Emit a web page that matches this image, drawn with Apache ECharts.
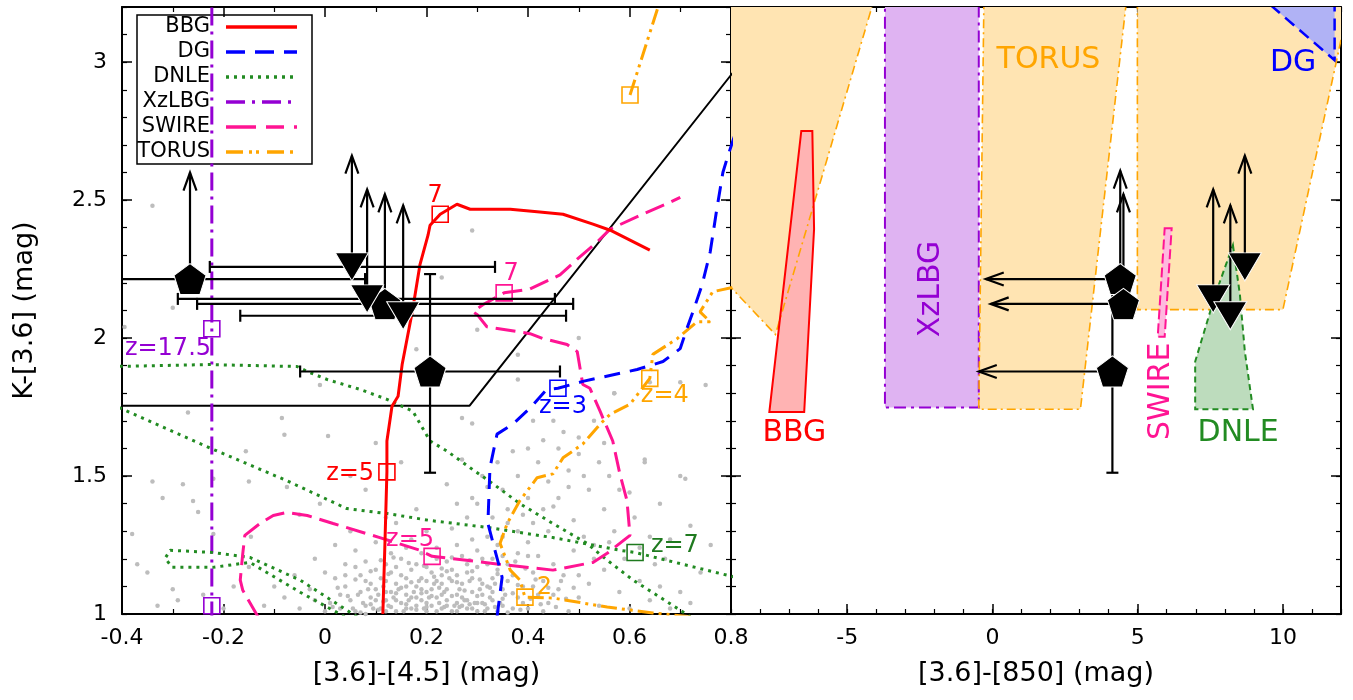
<!DOCTYPE html>
<html><head><meta charset="utf-8">
<script src="https://cdn.jsdelivr.net/npm/echarts@6/dist/echarts.min.js"></script>
<style>html,body{margin:0;padding:0;background:#fff}#c{width:1353px;height:700px}</style>
</head><body><div id="c"></div>
<script>
// ---------------- DATA ----------------
// background field galaxies ([3.6]-[4.5], K-[3.6])
const fieldSources = [
[0.06,1.01],[0.08,1.03],[0.09,1.06],[0.11,1.02],[0.12,1.05],[0.13,1.08],[0.14,1.01],[0.15,1.04],[0.16,1.07],[0.17,1.02],[0.18,1.10],[0.19,1.05],[0.2,1.01],[0.2,1.08],[0.21,1.03],[0.22,1.06],[0.22,1.12],[0.23,1.02],[0.24,1.05],[0.24,1.09],[0.25,1.01],[0.26,1.04],[0.26,1.07],[0.27,1.11],[0.28,1.02],[0.28,1.05],[0.29,1.08],[0.3,1.01],[0.3,1.04],[0.31,1.07],[0.32,1.02],[0.32,1.10],[0.33,1.05],[0.34,1.01],[0.35,1.03],[0.1,1.09],[0.12,1.12],[0.14,1.11],[0.15,1.14],[0.17,1.06],[0.18,1.03],[0.19,1.13],[0.21,1.09],[0.23,1.14],[0.25,1.12],[0.27,1.03],[0.29,1.13],[0.31,1.11],[0.05,1.05],[0.07,1.08],[0.03,1.02],[0.04,1.10],[0.01,1.04],[0.02,1.13],[0.16,1.02],[0.18,1.06],[0.2,1.04],[0.22,1.01],[0.24,1.03],[0.26,1.01],[0.19,1.09],[0.21,1.15],[0.17,1.16],[0.13,1.15],[0.11,1.13],[0.09,1.11],[0.07,1.14],[0.25,1.16],[0.28,1.15],[0.3,1.17],[0.33,1.13],[0.35,1.09],[0.36,1.12],[0.14,1.05],[0.16,1.10],[0.23,1.07],[0.27,1.06],[0.29,1.02],[0.12,1.01],[0.1,1.05],[0.08,1.00],[0.31,1.04],[0.33,1.08],[0.2,1.12],[0.18,1.18],[0.15,1.2],[0.24,1.19],[0.27,1.21],[0.3,1.23],[0.12,1.18],
[0.055,1.02],[0.065,1.07],[0.075,1.04],[0.085,1.09],[0.095,1.02],[0.105,1.07],[0.115,1.10],[0.125,1.03],[0.135,1.06],[0.145,1.09],[0.155,1.01],[0.165,1.05],[0.175,1.08],[0.185,1.12],[0.195,1.02],[0.205,1.06],[0.215,1.11],[0.225,1.04],[0.235,1.08],[0.245,1.13],[0.255,1.03],[0.265,1.09],[0.275,1.05],[0.285,1.12],[0.295,1.04],[0.305,1.09],[0.315,1.01],[0.325,1.06],[0.335,1.11],[0.345,1.04],[0.355,1.07],[0.16,1.13],[0.2,1.17],[0.23,1.11],[0.26,1.14],[0.12,1.08],[0.14,1.17],[0.1,1.16],[0.08,1.12],[0.06,1.17],[0.03,1.07],[0.0,1.01],[-0.02,1.05],[0.04,1.14],[0.28,1.18],[0.31,1.2],[0.34,1.16],[0.37,1.14],[0.39,1.04],[0.41,1.1],[0.43,1.01],[0.45,1.07],[0.19,1.22],[0.22,1.2],[0.16,1.24],[0.13,1.22],[0.26,1.25],[0.29,1.27],[0.35,1.28],[0.38,1.3],[0.41,1.33],[0.43,1.38],[0.46,1.42],[0.48,1.46],[0.51,1.5],[0.54,1.55],[0.36,1.38],[0.33,1.35],[0.3,1.4],[0.32,1.46],[0.34,1.55],[0.4,1.6],[0.45,1.7],[0.5,1.64],[0.55,1.62],[0.58,1.45],[0.61,1.35],[0.64,1.28],[0.5,1.14],[0.53,1.25],[0.56,1.26],[0.59,1.2],[0.62,1.24],[0.66,1.1],[0.68,1.02],[0.72,1.04],
[0.07,1.005],[0.09,1.035],[0.105,1.015],[0.115,1.045],[0.13,1.025],[0.14,1.075],[0.15,1.095],[0.16,1.035],[0.17,1.115],[0.18,1.015],[0.19,1.075],[0.2,1.025],[0.21,1.065],[0.215,1.135],[0.225,1.095],[0.235,1.025],[0.24,1.155],[0.25,1.065],[0.26,1.115],[0.265,1.025],[0.275,1.085],[0.285,1.035],[0.29,1.155],[0.3,1.065],[0.305,1.125],[0.315,1.035],[0.325,1.095],[0.335,1.025],[0.34,1.145],[0.35,1.055],[0.36,1.005],[0.37,1.075],[0.38,1.105],[0.385,1.015],[0.395,1.165],[0.405,1.055],[0.415,1.125],[0.425,1.035],[0.44,1.095],[0.455,1.025],[0.465,1.12],[0.475,1.055],[0.49,1.095],[0.06,1.125],[0.045,1.065],[0.025,1.095],[0.015,1.025],[0.09,1.155],[0.11,1.195],[0.125,1.145],[0.135,1.205],[0.165,1.185],[0.195,1.175],[0.23,1.165],[0.25,1.205],[0.285,1.195],[0.32,1.18],[0.35,1.21],[0.375,1.19],[0.4,1.21],
[-0.05,1.02],[-0.08,1.06],[-0.03,1.09],[0.0,1.15],[-0.02,1.2],[0.04,1.18],[0.06,1.23],[0.08,1.19],[0.1,1.26],[0.05,1.3],[0.02,1.25],[-0.06,1.14],[-0.1,1.1],[-0.12,1.03],[0.37,1.02],[0.38,1.06],[0.39,1.1],[0.4,1.02],[0.41,1.15],[0.42,1.07],[0.43,1.12],[0.44,1.04],[0.45,1.18],[0.46,1.09],[0.47,1.14],[0.48,1.01],[0.36,1.18],[0.38,1.22],[0.4,1.26],[0.42,1.21],[0.44,1.3],[0.34,1.25],[0.32,1.28],[0.36,1.33],[0.39,1.36],[0.33,1.2],[0.22,1.24],[0.2,1.3],[0.17,1.27],[0.25,1.31],[0.28,1.35],[0.14,1.33],[0.18,1.38],[0.26,1.4],[0.5,1.06],[0.52,1.11],[0.54,1.03],[0.55,1.16],[0.49,1.23],[0.51,1.28],[0.53,1.2],
[0.35,1.45],[0.38,1.5],[0.4,1.42],[0.42,1.55],[0.44,1.48],[0.46,1.6],[0.48,1.52],[0.5,1.58],[0.47,1.66],[0.43,1.63],[0.37,1.59],[0.41,1.7],[0.45,1.39],[0.49,1.34],[0.52,1.45],[0.55,1.38],[0.57,1.3],[0.56,1.5],[0.6,1.44],[0.63,1.55],[0.66,1.4],[0.68,1.27],[0.7,1.5],[0.72,1.32],[0.65,1.18],[0.62,1.12],[0.58,1.08],[0.6,1.02],[0.64,1.05],[0.7,1.08],[0.74,1.15],[0.76,1.25],[0.67,1.2],[0.53,1.7],[0.57,1.8],[0.29,1.42],[0.31,1.5],[0.27,1.56],[0.24,1.47],
[-0.34,2.48],[-0.3,2.11],[-0.395,2.04],[0.18,1.96],[-0.01,1.83],[-0.27,1.73],[-0.085,1.71],[-0.08,1.65],[0.006,1.645],[-0.156,1.59],[-0.34,1.48],[-0.28,1.47],[-0.22,1.49],[-0.15,1.48],[-0.075,1.46],[-0.32,1.42],[-0.26,1.41],[-0.25,1.37],[-0.38,1.29],[-0.22,1.29],[-0.146,1.28],[-0.37,1.18],[-0.35,1.15],[-0.3,1.09],[-0.29,1.05],[-0.24,1.07],[-0.33,1.03],
[0.29,2.39],[0.23,2.22],[0.3,2.03],[0.38,1.94],[0.38,1.85],[0.5,2.0],[0.7,1.84],[0.75,1.83],[0.64,1.84],[0.27,1.71],[0.29,1.69],[0.57,1.80],[0.63,1.56],[0.71,1.49],
[-0.05,1.36],[-0.01,1.4],[0.08,1.45],[0.05,1.5],[0.12,1.35],[0.15,1.55],[0.1,1.62],[-0.15,1.17],[-0.18,1.1],[-0.2,1.02]
];

// colour-selection boundary
const cutLine = [[-0.45,1.755],[0.285,1.755],[0.82,3.0]];

// template redshift tracks (left panel)
const bbgTrack = [[0.114,1.0],[0.118,1.25],[0.122,1.515],[0.122,1.627],[0.132,1.753],[0.144,1.789],[0.152,1.904],[0.173,2.106],[0.187,2.265],[0.203,2.373],[0.207,2.409],[0.227,2.449],[0.260,2.485],[0.286,2.467],[0.365,2.467],[0.418,2.458],[0.469,2.449],[0.528,2.413],[0.562,2.391],[0.640,2.319]];
const dgTrack = [[0.339,0.99],[0.349,1.133],[0.321,1.328],[0.325,1.530],[0.339,1.652],[0.370,1.688],[0.404,1.746],[0.437,1.814],[0.459,1.818],[0.508,1.843],[0.615,1.886],[0.666,1.915],[0.700,1.962],[0.713,2.034],[0.725,2.095],[0.743,2.193],[0.759,2.312],[0.772,2.467],[0.784,2.600],[0.794,2.661],[0.81,2.75]];
const dnleTrackA = [[-0.42,1.897],[-0.227,1.904],[-0.055,1.897],[-0.035,1.879],[0.004,1.850],[0.069,1.814],[0.122,1.778],[0.173,1.735],[0.207,1.627],[0.240,1.591],[0.286,1.530],[0.331,1.472],[0.384,1.400],[0.449,1.328],[0.516,1.256],[0.556,1.195],[0.607,1.123],[0.660,1.061],[0.72,0.99]];
const dnleTrackB = [[-0.42,1.76],[-0.227,1.602],[-0.075,1.483],[0.043,1.382],[0.122,1.364],[0.207,1.339],[0.319,1.314],[0.449,1.277],[0.581,1.231],[0.611,1.223],[0.82,1.128]];
const dnleTrackC = [[0.063,0.99],[-0.049,1.123],[-0.148,1.205],[-0.221,1.223],[-0.305,1.231],[-0.315,1.202],[-0.301,1.169],[-0.221,1.169],[-0.148,1.187],[-0.049,1.079],[0.039,0.99]];
const xzlbgTrack = [[-0.223,0.98],[-0.223,3.25]];
const swireTrack = [[-0.132,0.99],[-0.162,1.086],[-0.167,1.123],[-0.162,1.220],[-0.158,1.285],[-0.128,1.328],[-0.102,1.357],[-0.075,1.368],[-0.035,1.357],[0.016,1.328],[0.108,1.277],[0.187,1.231],[0.211,1.209],[0.246,1.202],[0.359,1.177],[0.449,1.159],[0.528,1.187],[0.556,1.220],[0.601,1.285],[0.595,1.411],[0.581,1.508],[0.567,1.627],[0.542,1.735],[0.522,1.818],[0.508,1.832],[0.497,1.951],[0.477,1.977],[0.430,1.998],[0.404,2.016],[0.319,2.041],[0.300,2.085],[0.292,2.095],[0.311,2.121],[0.353,2.164],[0.404,2.178],[0.463,2.229],[0.497,2.286],[0.536,2.348],[0.562,2.395],[0.621,2.445],[0.680,2.492],[0.700,2.510]];
const torusTrack = [[0.72,0.99],[0.646,1.004],[0.556,1.025],[0.449,1.058],[0.394,1.061],[0.384,1.123],[0.365,1.159],[0.345,1.256],[0.359,1.328],[0.384,1.411],[0.418,1.494],[0.449,1.508],[0.469,1.566],[0.508,1.616],[0.542,1.688],[0.562,1.724],[0.601,1.760],[0.640,1.854],[0.646,1.941],[0.694,1.998],[0.733,2.059],[0.759,2.059],[0.739,2.095],[0.764,2.168],[0.82,2.19]];
const torusTrackHigh = [[0.601,2.881],[0.665,3.25]];

// redshift markers [x, y, label]
const bbgMarks = [[0.122,1.515,'z=5'],[0.227,2.449,'7']];
const swireMarks = [[0.211,1.209,'z=5'],[0.353,2.164,'7']];
const dgMarks = [[0.459,1.818,'z=3']];
const torusMarks = [[0.640,1.854,'z=4'],[0.394,1.061,'2'],[0.601,2.881,'']];
const dnleMarks = [[0.611,1.223,'z=7']];
const xzlbgMarks = [[-0.223,2.034,'z=17.5'],[-0.223,1.03,'']];

// sources: pentagons (detections) and triangles (limits)
const pentLeft = [[-0.266,2.214],[0.118,2.124],[0.207,1.879]];
const triLeft = [[0.053,2.258],[0.083,2.142],[0.154,2.081]];
const pentRight = [[4.40,2.214],[4.51,2.124],[4.13,1.879]];
const triRight = [[8.69,2.258],[7.60,2.142],[8.19,2.081]];
// horizontal error bars [x, y, xlow, xhigh]
const errXLeft = [[-0.266,2.214,-0.46,0.079],[0.053,2.258,-0.227,0.335],[0.083,2.142,-0.290,0.453],[0.118,2.124,-0.252,0.489],[0.154,2.081,-0.167,0.475],[0.207,1.879,-0.049,0.463]];
// vertical error bars [x, y, ylow, yhigh]
const errYLeft = [[0.207,1.879,1.512,2.232]];
const errYRight = [[4.13,1.879,1.512,2.232]];
// lower limits in K-[3.6] [x, y, yTip]
const upLimLeft = [[-0.266,2.214,2.600],[0.053,2.258,2.661],[0.083,2.142,2.539],[0.118,2.124,2.521],[0.154,2.081,2.481]];
const upLimRight = [[4.40,2.214,2.607],[4.51,2.124,2.521],[8.69,2.258,2.661],[7.60,2.142,2.539],[8.19,2.081,2.481]];
// upper limits in [3.6]-[850] [x, y, xTip]
const leftLimRight = [[4.40,2.214,-0.23],[4.51,2.124,-0.06],[4.13,1.879,-0.47]];

// template regions (right panel)
const torusRegion1 = [[-10,3.5],[-3.31,3.5],[-7.47,2.013],[-10,2.295]];
const torusRegion2 = [[-0.26,3.5],[4.91,3.5],[3.03,1.742],[-0.47,1.742]];
const torusRegion3 = [[4.99,3.5],[4.99,2.103],[10.0,2.103],[11.85,3.007],[12.5,3.33],[12.5,3.5]];
const xzlbgRegion = [[-3.70,3.5],[-0.47,3.5],[-0.47,1.748],[-3.70,1.748]];
const bbgRegion = [[-6.58,2.751],[-6.2,2.751],[-6.14,2.395],[-6.48,1.732],[-7.68,1.732]];
const dgRegion = [[8.55,3.3],[11.78,3.3],[11.78,3.007]];
const swireRegion = [[5.93,2.398],[6.17,2.398],[5.93,2.005],[5.69,2.005]];
const dnleRegion = [[8.28,2.337],[8.52,2.157],[8.69,1.951],[8.97,1.742],[6.98,1.742],[6.98,1.915],[7.26,2.013],[7.67,2.157]];
// region names [text, x, y]
const regionNames = [['TORUS',1.93,3.007],['DG',10.35,2.996],['XzLBG',-2.12,2.178],['BBG',-6.82,1.656],['SWIRE',5.81,1.807],['DNLE',8.46,1.656]];

const legendNames = ['BBG','DG','DNLE','XzLBG','SWIRE','TORUS'];
const xTicksRight = [-5,0,5,10];

// ---------------- STYLES ----------------
const FONT = 'DejaVu Sans';
const ST = {
  BBG:{c:'#ff0000', dash:'solid', ldash:null},
  DG:{c:'#0000ff', dash:[16,10], ldash:[19,10]},
  DNLE:{c:'#228b22', dash:[3,5], ldash:[3,5]},
  XzLBG:{c:'#9400d3', dash:[18,6,3,6], ldash:[19,7,3,7]},
  SWIRE:{c:'#ff1493', dash:[20,8], ldash:[30,10,18,10]},
  TORUS:{c:'#ffa500', dash:[16,5,3,5,3,5], ldash:[17,6,3,4,3,8]}
};
const regionTextColor = {TORUS:'#ffa500', DG:'#0000ff', XzLBG:'#9400d3', BBG:'#ff0000', SWIRE:'#ff1493', DNLE:'#228b22'};
const regionTextRot = {XzLBG:Math.PI/2, SWIRE:Math.PI/2};

// ---------------- AXES ----------------
const lineOn = {show:true, onZero:false, lineStyle:{color:'#000', width:2}};
const lineOff = {show:false, onZero:false};
const tickLong = {show:true, inside:true, length:10, lineStyle:{color:'#000', width:1.5}};
const tickShort = {show:true, inside:true, length:5, lineStyle:{color:'#000', width:1.2}};
const noLab = {show:false};
const tickLab = {show:true, fontSize:22, fontFamily:FONT, color:'#000'};
function ax(o){ return Object.assign({type:'value', splitLine:{show:false}, axisLine:lineOff, axisTick:{show:false}, axisLabel:noLab, scale:false}, o); }

const xAxes = [
  ax({gridIndex:0, position:'bottom', min:-0.4, max:0.8, interval:0.2, axisLine:lineOn, axisTick:tickLong,
      minorTick:{show:true, splitNumber:2, length:5, lineStyle:{color:'#000', width:1.2}},
      axisLabel:Object.assign({margin:13}, tickLab),
      name:'[3.6]-[4.5] (mag)', nameLocation:'middle', nameGap:46, nameTextStyle:{fontSize:27, fontFamily:FONT, color:'#000'}}),
  ax({gridIndex:0, position:'top', min:-0.4, max:0.8, interval:0.2, axisLine:lineOn, axisTick:tickLong,
      minorTick:{show:true, splitNumber:2, length:5, lineStyle:{color:'#000', width:1.2}}}),
  ax({gridIndex:1, position:'bottom', min:-9, max:12, axisLine:lineOn,
      axisTick:Object.assign({customValues:xTicksRight}, tickLong),
      axisLabel:Object.assign({margin:13, customValues:xTicksRight}, tickLab),
      name:'[3.6]-[850] (mag)', nameLocation:'middle', nameGap:46, nameTextStyle:{fontSize:27, fontFamily:FONT, color:'#000'}}),
  ax({gridIndex:1, position:'bottom', min:-9, max:12, interval:1, axisTick:tickShort}),
  ax({gridIndex:1, position:'top', min:-9, max:12, axisLine:lineOn, axisTick:Object.assign({customValues:xTicksRight}, tickLong)}),
  ax({gridIndex:1, position:'top', min:-9, max:12, interval:1, axisTick:tickShort})
];
const yAxes = [
  ax({gridIndex:0, position:'left', min:1, max:3.2, interval:0.5, axisLine:lineOn, axisTick:tickLong,
      axisLabel:Object.assign({margin:15, showMaxLabel:false}, tickLab),
      name:'K-[3.6] (mag)', nameLocation:'middle', nameGap:84, nameRotate:90, nameTextStyle:{fontSize:27, fontFamily:FONT, color:'#000'}}),
  ax({gridIndex:0, position:'left', min:1, max:3.2, interval:0.1, axisTick:tickShort}),
  ax({gridIndex:0, position:'right', min:1, max:3.2, interval:0.5, axisLine:lineOn, axisTick:tickLong}),
  ax({gridIndex:0, position:'right', min:1, max:3.2, interval:0.1, axisTick:tickShort}),
  ax({gridIndex:1, position:'left', min:1, max:3.2, interval:0.5, axisLine:lineOn, axisTick:tickLong}),
  ax({gridIndex:1, position:'left', min:1, max:3.2, interval:0.1, axisTick:tickShort}),
  ax({gridIndex:1, position:'right', min:1, max:3.2, interval:0.5, axisLine:lineOn, axisTick:tickLong}),
  ax({gridIndex:1, position:'right', min:1, max:3.2, interval:0.1, axisTick:tickShort})
];

// ---------------- SERIES HELPERS ----------------
const L = {xAxisIndex:0, yAxisIndex:0};
const R = {xAxisIndex:2, yAxisIndex:4};

function track(data, key, w){
  const s = ST[key];
  return Object.assign({type:'line', data:data, showSymbol:false, symbol:'none', silent:true, z:3,
    lineStyle:{color:s.c, width:w||3, type:s.dash, cap:'butt'}}, L);
}
function marks(data, color, labelColor, layout){
  return Object.assign({type:'scatter', silent:true, z:4, symbol:'rect', symbolSize:16,
    itemStyle:{color:'rgba(0,0,0,0)', borderColor:color, borderWidth:1.6, opacity:1},
    data:data.map(function(d,i){
      const lay = layout[i] || null;
      return {value:[d[0],d[1]], label: lay ? {show:true, formatter:d[2], position:lay[0], distance:lay[2]||2, offset:lay[1],
        color:labelColor, fontSize:24, fontFamily:FONT} : {show:false}};
    })}, L);
}
function region(points, fill, stroke, dash, lw, z){
  return Object.assign({type:'custom', clip:true, silent:true, z:z||1, data:[[points[0][0], points[0][1]]],
    renderItem:function(params, api){
      const pts = points.map(function(p){ return api.coord(p); });
      return {type:'polygon', shape:{points:pts}, style:{fill:fill, stroke:stroke, lineWidth:lw||2, lineDash:dash}};
    }}, R);
}
const blk = {stroke:'#000', lineWidth:2.2, fill:null};
function hBars(data, ax){
  return Object.assign({type:'custom', clip:true, silent:true, z:5, data:data,
    renderItem:function(params, api){
      const d = data[params.dataIndex];
      const a = api.coord([d[2], d[1]]), b = api.coord([d[3], d[1]]);
      return {type:'group', children:[
        {type:'line', shape:{x1:a[0], y1:a[1], x2:b[0], y2:b[1]}, style:blk},
        {type:'line', shape:{x1:a[0], y1:a[1]-6, x2:a[0], y2:a[1]+6}, style:blk},
        {type:'line', shape:{x1:b[0], y1:b[1]-6, x2:b[0], y2:b[1]+6}, style:blk}
      ]};
    }}, ax);
}
function vBars(data, ax){
  return Object.assign({type:'custom', clip:true, silent:true, z:5, data:data,
    renderItem:function(params, api){
      const d = data[params.dataIndex];
      const a = api.coord([d[0], d[2]]), b = api.coord([d[0], d[3]]);
      return {type:'group', children:[
        {type:'line', shape:{x1:a[0], y1:a[1], x2:b[0], y2:b[1]}, style:blk},
        {type:'line', shape:{x1:a[0]-6, y1:a[1], x2:a[0]+6, y2:a[1]}, style:blk},
        {type:'line', shape:{x1:b[0]-6, y1:b[1], x2:b[0]+6, y2:b[1]}, style:blk}
      ]};
    }}, ax);
}
function upArrows(data, ax){
  return Object.assign({type:'custom', clip:true, silent:true, z:5, data:data,
    renderItem:function(params, api){
      const d = data[params.dataIndex];
      const a = api.coord([d[0], d[1]]), t = api.coord([d[0], d[2]]);
      return {type:'group', children:[
        {type:'line', shape:{x1:a[0], y1:a[1], x2:t[0], y2:t[1]}, style:blk},
        {type:'polyline', shape:{points:[[t[0]-6.5, t[1]+18],[t[0], t[1]],[t[0]+6.5, t[1]+18]]}, style:blk}
      ]};
    }}, ax);
}
function leftArrows(data, ax){
  return Object.assign({type:'custom', clip:true, silent:true, z:5, data:data,
    renderItem:function(params, api){
      const d = data[params.dataIndex];
      const a = api.coord([d[0], d[1]]), t = api.coord([d[2], d[1]]);
      return {type:'group', children:[
        {type:'line', shape:{x1:a[0], y1:a[1], x2:t[0], y2:t[1]}, style:blk},
        {type:'polyline', shape:{points:[[t[0]+18, t[1]-6.5],[t[0], t[1]],[t[0]+18, t[1]+6.5]]}, style:blk}
      ]};
    }}, ax);
}
const PENT = 'path://M0,-10L9.511,-3.09L5.878,8.09L-5.878,8.09L-9.511,-3.09Z';
function pents(data, ax){
  return Object.assign({type:'scatter', silent:true, z:6, data:data, symbol:PENT, symbolSize:[32,31],
    itemStyle:{color:'#000', borderColor:'#fff', borderWidth:1, opacity:1}}, ax);
}
function tris(data, ax){
  return Object.assign({type:'scatter', silent:true, z:6, data:data, symbol:'triangle', symbolRotate:180, symbolSize:[33,28],
    itemStyle:{color:'#000', borderColor:'#fff', borderWidth:1, opacity:1}}, ax);
}

// ---------------- LEGEND (graphic) ----------------
const legendChildren = [{type:'rect', shape:{x:0, y:0, width:175, height:149}, style:{fill:'#fff', stroke:'#000', lineWidth:1.5}}];
legendNames.forEach(function(n, i){
  const y = 12 + 25*i;
  legendChildren.push({type:'text', x:73, y:y, style:{text:n, fill:'#000', font:'21px "DejaVu Sans"', align:'right', verticalAlign:'middle'}});
  legendChildren.push({type:'line', shape:{x1:89, y1:y, x2:160, y2:y}, style:{stroke:ST[n].c, lineWidth:3.5, lineDash:ST[n].ldash}});
});

// ---------------- OPTION ----------------
const torusBorder = [9,4,2,4];
const series = [
  region(torusRegion1, '#ffe4b2', null, null, 0, 1),
  region(torusRegion2, '#ffe4b2', null, null, 0, 1),
  region(torusRegion3, '#ffe4b2', null, null, 0, 1),
  region(xzlbgRegion, '#dfb3f2', '#9400d3', [12,5,3,5], 2, 1),
  region(dgRegion, '#b0b2f5', '#0000ff', [12,7], 2.5, 1),
  region(bbgRegion, '#ffb3b3', null, null, 0, 1),
  region(torusRegion1, null, '#ffa500', torusBorder, 1.6, 2),
  region(torusRegion2, null, '#ffa500', torusBorder, 1.6, 2),
  region(torusRegion3, null, '#ffa500', torusBorder, 1.6, 2),
  region(bbgRegion, null, '#ff0000', null, 2, 2),
  region(swireRegion, '#ffb8df', '#ff1493', [10,4], 2, 2),
  region(dnleRegion, '#bddcbd', '#228b22', [6,4], 2, 2),
  Object.assign({type:'custom', silent:true, z:7, data:regionNames.map(function(r){ return [r[1], r[2]]; }),
    renderItem:function(params, api){
      const r = regionNames[params.dataIndex];
      const p = api.coord([r[1], r[2]]);
      return {type:'text', x:p[0], y:p[1], rotation:regionTextRot[r[0]]||0,
        style:{text:r[0], fill:regionTextColor[r[0]], font:'30px "DejaVu Sans"', align:'center', verticalAlign:'middle'}};
    }}, R),
  Object.assign({type:'scatter', data:fieldSources, symbolSize:4.5, silent:true, z:2, itemStyle:{color:'#bdbdbd', opacity:1}}, L),
  Object.assign({type:'line', data:cutLine, showSymbol:false, symbol:'none', silent:true, z:3, lineStyle:{color:'#000', width:2}}, L),
  track(xzlbgTrack, 'XzLBG'),
  track(dnleTrackA, 'DNLE'),
  track(dnleTrackB, 'DNLE'),
  track(dnleTrackC, 'DNLE'),
  track(swireTrack, 'SWIRE'),
  track(torusTrack, 'TORUS'),
  track(torusTrackHigh, 'TORUS'),
  track(dgTrack, 'DG'),
  track(bbgTrack, 'BBG'),
  marks(bbgMarks, '#ff0000', '#ff0000', [['left',[0,2],4],['top',[-5,4],0]]),
  marks(swireMarks, '#ff1493', '#ff1493', [['top',[-22,6],0],['top',[7,4],0]]),
  marks(dgMarks, '#0000ff', '#0000ff', [['bottom',[5,-4],0]]),
  marks(torusMarks, '#ffa500', '#ffa500', [['bottom',[15,-5],0],['right',[0,-9],3]]),
  marks(dnleMarks, '#1f7a1f', '#1f7a1f', [['right',[2,-7],5]]),
  marks(xzlbgMarks, '#9400d3', '#9400d3', [['left',[4,20],-4]]),
  hBars(errXLeft, L),
  vBars(errYLeft, L),
  upArrows(upLimLeft, L),
  pents(pentLeft, L),
  tris(triLeft, L),
  vBars(errYRight, R),
  upArrows(upLimRight, R),
  leftArrows(leftLimRight, R),
  pents(pentRight, R),
  tris(triRight, R)
];

const chart = echarts.init(document.getElementById('c'), null, {renderer:'canvas'});
chart.setOption({
  animation:false,
  backgroundColor:'#fff',
  grid:[{left:122, top:7, width:609, height:607}, {left:731, top:7, width:610, height:607}],
  xAxis:xAxes,
  yAxis:yAxes,
  series:series,
  graphic:[{type:'group', x:137, y:15, z:100, children:legendChildren}]
});
</script></body></html>
